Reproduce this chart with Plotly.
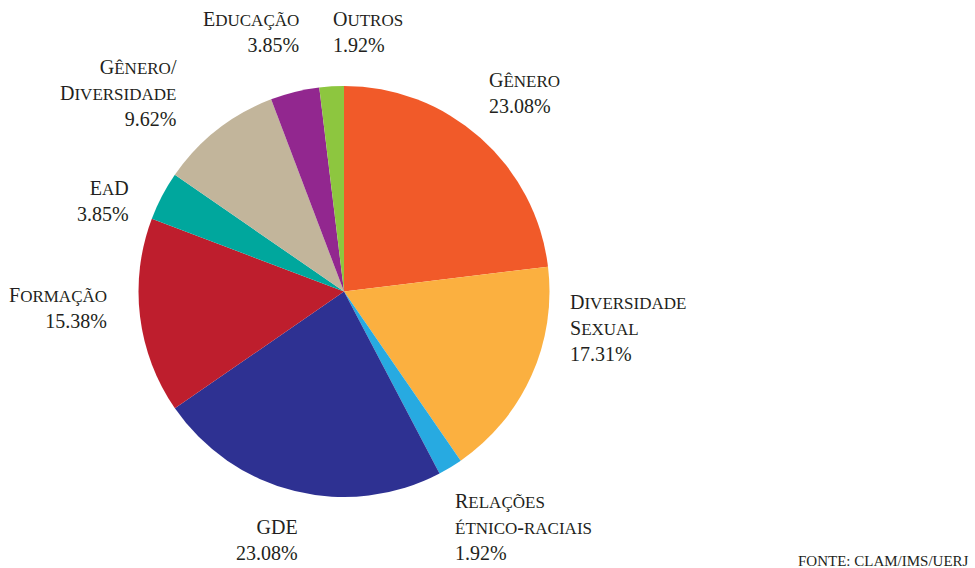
import plotly.graph_objects as go

# Share of items by theme (percent), clockwise from 12 o'clock
categories = ["Gênero", "Diversidade<br>Sexual", "Relações<br>étnico-raciais", "GDE",
              "Formação", "EaD", "Gênero/<br>Diversidade", "Educação", "Outros"]
shares = [23.08, 17.31, 1.92, 23.08, 15.38, 3.85, 9.62, 3.85, 1.92]
colors = ["#F15A29", "#FBB040", "#27AAE1", "#2E3192", "#BE1E2D",
          "#00A79D", "#C2B59B", "#92278F", "#8DC63F"]

# Label placement in pixels: (x, y-middle, side the text hangs from)
label_pos = [
    (487, 93, "left"),
    (568, 328, "left"),
    (453, 527, "left"),
    (300, 540, "right"),
    (109, 308, "right"),
    (131, 201, "right"),
    (179, 93, "right"),
    (301, 32, "right"),
    (331, 32, "left"),
]

W, H = 975, 568
cx, cy, r = 344, 291.5, 205.5

SERIF = "Liberation Serif, DejaVu Serif, serif"
CAP_SIZE = 20
SMALL_SIZE = 17


def small_caps(line):
    """Render lowercase runs as reduced-size capitals."""
    out, run = [], ""
    for ch in line:
        if ch.islower():
            run += ch.upper()
        else:
            if run:
                out.append(f'<span style="font-size:{SMALL_SIZE}px">{run}</span>')
                run = ""
            out.append(ch)
    if run:
        out.append(f'<span style="font-size:{SMALL_SIZE}px">{run}</span>')
    return "".join(out)


fig = go.Figure(go.Pie(
    values=shares,
    labels=[c.replace("<br>", " ") for c in categories],
    marker=dict(colors=colors, line=dict(width=0)),
    sort=False,
    direction="clockwise",
    rotation=0,
    textinfo="none",
    hoverinfo="label+percent",
    showlegend=False,
    domain=dict(x=[(cx - r) / W, (cx + r) / W],
                y=[(H - cy - r) / H, (H - cy + r) / H]),
))

label_font = dict(family=SERIF, size=CAP_SIZE, color="#231F20")

for cat, val, (px, py, side) in zip(categories, shares, label_pos):
    name = "<br>".join(small_caps(part) for part in cat.split("<br>"))
    fig.add_annotation(
        text=f"{name}<br>{val:.2f}%",
        x=px / W, y=1 - py / H, xref="paper", yref="paper",
        xanchor=side, yanchor="middle", align=side,
        showarrow=False, font=label_font,
    )

fig.add_annotation(
    text="FONTE: CLAM/IMS/UERJ",
    x=971 / W, y=1 - 561 / H, xref="paper", yref="paper",
    xanchor="right", yanchor="middle", showarrow=False,
    font=dict(family=SERIF, size=15, color="#231F20"),
)

fig.update_layout(
    width=W, height=H,
    margin=dict(l=0, r=0, t=0, b=0),
    paper_bgcolor="white", plot_bgcolor="white",
    font=dict(family=SERIF),
)

fig.write_html("out.html")
